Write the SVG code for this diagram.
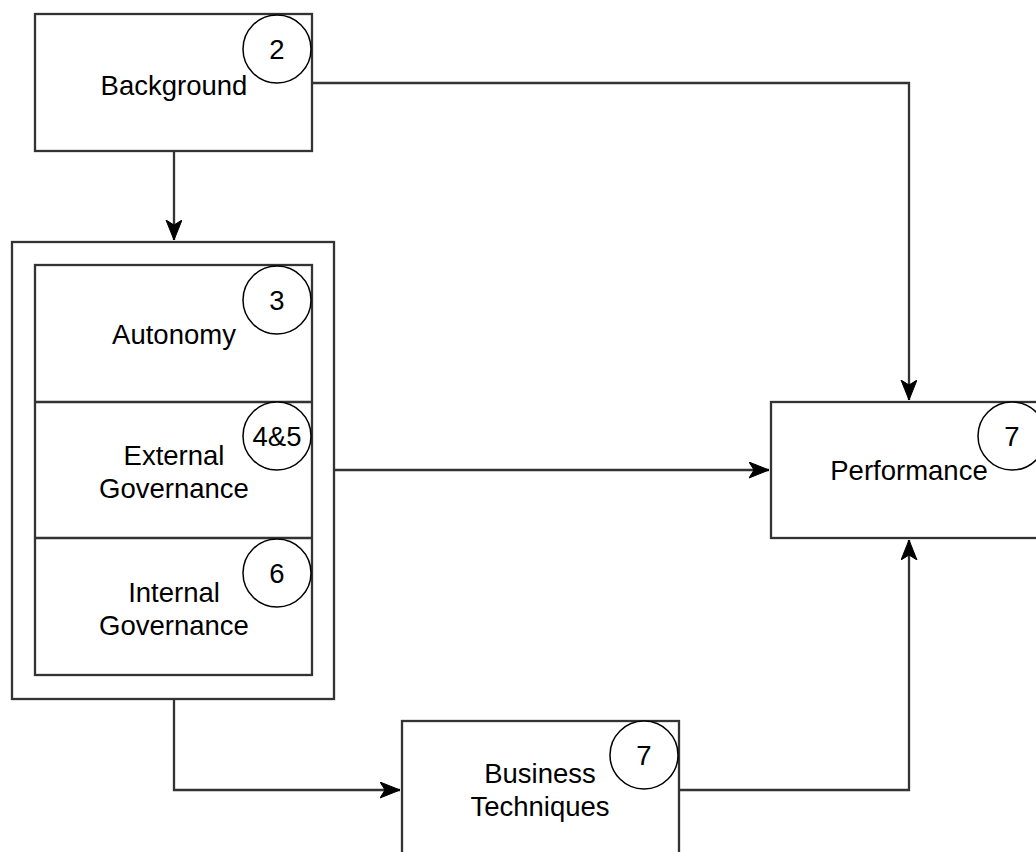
<svg xmlns="http://www.w3.org/2000/svg" width="1036" height="852" viewBox="0 0 1036 852">
<style>
.box{fill:#fff;stroke:#333;stroke-width:2.3}
.div{fill:none;stroke:#333;stroke-width:2.3}
.circ{fill:#fff;stroke:#000;stroke-width:1.5}
.t{font-family:"Liberation Sans",Arial,sans-serif;font-size:27.5px;fill:#000;text-anchor:middle}
.edge{fill:none;stroke:#333;stroke-width:2.3}
</style>
<defs>
<marker id="arr" markerUnits="userSpaceOnUse" markerWidth="22" markerHeight="18" refX="20" refY="8" orient="auto">
<path d="M0,0 L20,8 L0,16 L5,8 Z" fill="#000" stroke="#000" stroke-width="1"/>
</marker>
</defs>
<rect width="1036" height="852" fill="#fff"/>
<g id="connectors">
<path class="edge" d="M174,151 L174,240" marker-end="url(#arr)"/>
<path class="edge" d="M312,83 L909,83 L909,400" marker-end="url(#arr)"/>
<path class="edge" d="M334,470 L769,470" marker-end="url(#arr)"/>
<path class="edge" d="M174,699 L174,790 L400,790" marker-end="url(#arr)"/>
<path class="edge" d="M679,790 L909,790 L909,540" marker-end="url(#arr)"/>
</g>
<g id="background">
<rect class="box" x="35" y="14" width="277" height="137"/>
<text class="t" x="174" y="95">Background</text>
<circle class="circ" cx="277" cy="49" r="34"/>
<text class="t" x="277" y="59">2</text>
</g>
<g id="container">
<rect class="box" x="12" y="242" width="322" height="457"/>
<rect class="box" x="35" y="265" width="277" height="410"/>
<line class="div" x1="35" y1="402" x2="312" y2="402"/>
<line class="div" x1="35" y1="538" x2="312" y2="538"/>
</g>
<g id="autonomy">
<text class="t" x="174" y="344">Autonomy</text>
<circle class="circ" cx="277" cy="300" r="34"/>
<text class="t" x="277" y="310">3</text>
</g>
<g id="external">
<text class="t" x="174" y="465">External</text>
<text class="t" x="174" y="498">Governance</text>
<circle class="circ" cx="277" cy="436" r="34"/>
<text class="t" x="277" y="446">4&amp;5</text>
</g>
<g id="internal">
<text class="t" x="174" y="602">Internal</text>
<text class="t" x="174" y="635">Governance</text>
<circle class="circ" cx="277" cy="573" r="34"/>
<text class="t" x="277" y="583">6</text>
</g>
<g id="performance">
<rect class="box" x="771" y="402" width="277" height="136"/>
<text class="t" x="909" y="480">Performance</text>
<circle class="circ" cx="1012" cy="436" r="34"/>
<text class="t" x="1012" y="446">7</text>
</g>
<g id="business">
<rect class="box" x="402" y="721" width="277" height="137"/>
<text class="t" x="540" y="783">Business</text>
<text class="t" x="540" y="816">Techniques</text>
<circle class="circ" cx="644" cy="755" r="34"/>
<text class="t" x="644" y="765">7</text>
</g>
</svg>
